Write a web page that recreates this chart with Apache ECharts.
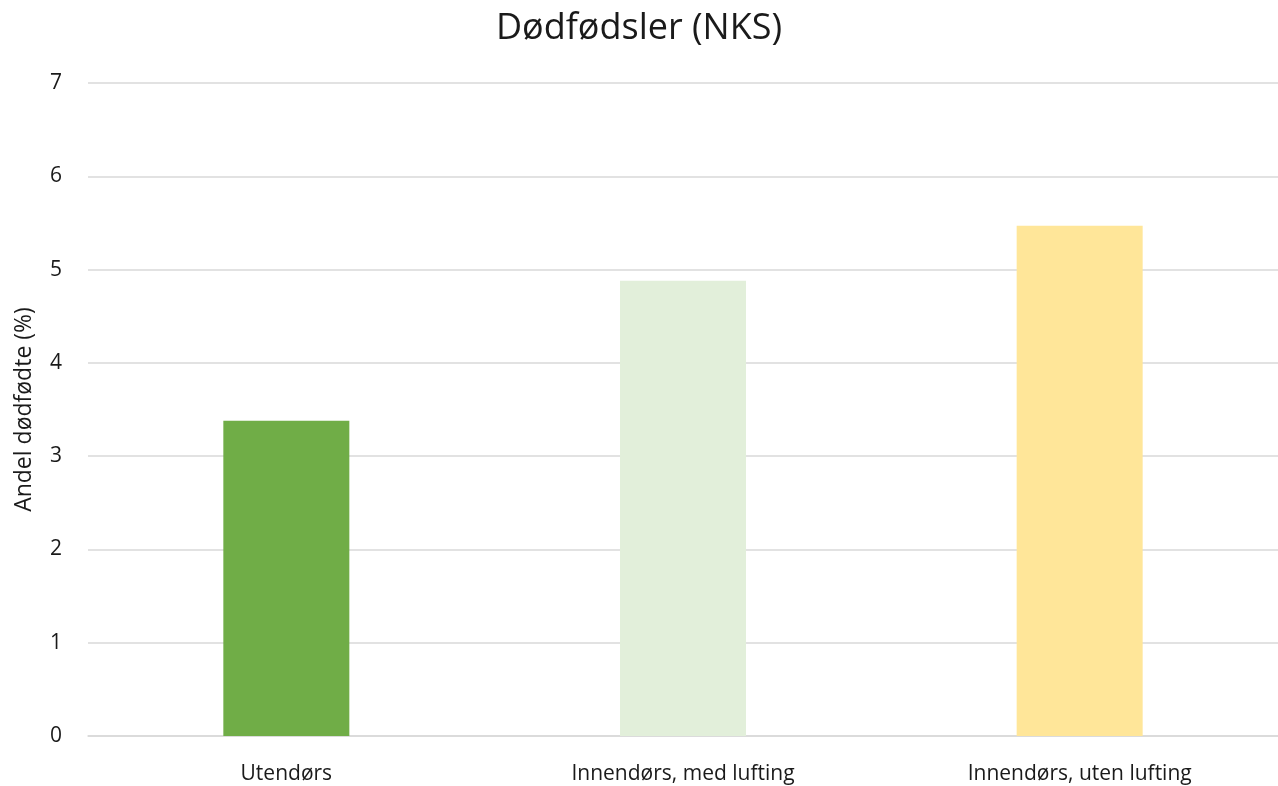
<!DOCTYPE html>
<html>
<head>
<meta charset="utf-8">
<script src="https://cdn.jsdelivr.net/npm/echarts@6/dist/echarts.min.js"></script>
<style>
  html, body { margin: 0; padding: 0; background: #fff; }
  #chart { width: 1278px; height: 786px; }
</style>
</head>
<body>
<div id="chart"></div>
<script>
// data
const categories = ['Utendørs', 'Innendørs, med lufting', 'Innendørs, uten lufting'];
const values = [3.38, 4.88, 5.47];
const barColors = ['#70AD47', '#E2EFDA', '#FFE699'];

const chart = echarts.init(document.getElementById('chart'));

const option = {
  backgroundColor: '#ffffff',
  textStyle: { fontFamily: 'Open Sans' },
  title: {
    text: 'Dødfødsler (NKS)',
    left: 'center',
    top: 6,
    textStyle: { fontFamily: 'Open Sans', fontSize: 36, fontWeight: 'normal', color: '#1a1a1a' }
  },
  grid: { left: 88, width: 1197, top: 83, bottom: 50, containLabel: false },
  xAxis: {
    type: 'category',
    data: categories,
    axisLine: { show: true, lineStyle: { color: '#d9d9d9', width: 1.5 } },
    axisTick: { show: false },
    axisLabel: { fontSize: 21, color: '#1a1a1a', margin: 28 }
  },
  yAxis: {
    type: 'value',
    min: 0,
    max: 7,
    interval: 1,
    name: 'Andel dødfødte (%)',
    nameLocation: 'middle',
    nameGap: 52,
    nameTextStyle: { fontSize: 23, color: '#1a1a1a' },
    axisLine: { show: false },
    axisTick: { show: false },
    axisLabel: { fontSize: 21, color: '#1a1a1a', margin: 26 },
    splitLine: { lineStyle: { color: '#d9d9d9', width: 1.5 } }
  },
  series: [{
    type: 'bar',
    data: values.map((v, i) => ({ value: v, itemStyle: { color: barColors[i] } })),
    barWidth: 126
  }]
};

chart.setOption(option);
</script>
</body>
</html>
